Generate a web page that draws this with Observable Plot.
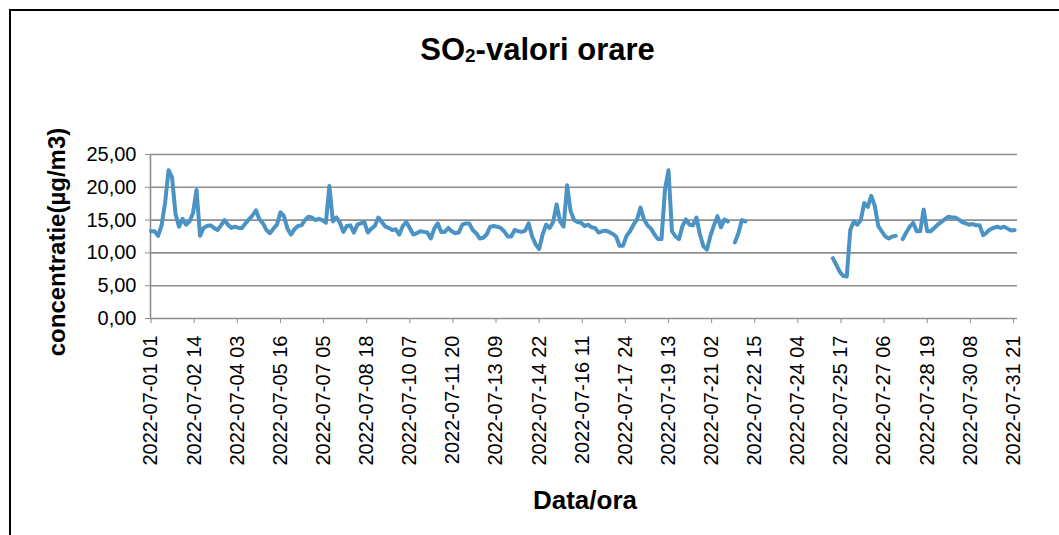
<!DOCTYPE html>
<html>
<head>
<meta charset="utf-8">
<script src="https://cdn.jsdelivr.net/npm/d3@7"></script>
<script src="https://cdn.jsdelivr.net/npm/@observablehq/plot@0.6"></script>
<style>
  html, body { margin: 0; padding: 0; background: #fff; }
  #wrap { position: relative; width: 1059px; height: 535px; overflow: hidden; font-family: 'Liberation Sans', Arial, sans-serif; }
  #frame { position: absolute; left: 9px; top: 9px; width: 1100px; height: 600px; border: 2px solid #000; box-sizing: border-box; }
  #title { position: absolute; left: 0; width: 1075px; top: 32px; text-align: center; font-size: 31px; font-weight: bold; color: #000; }
  #title sub { font-size: 19px; vertical-align: -2px; line-height: 0; }
  #ylab { position: absolute; left: 57px; top: 242px; transform: translate(-50%, -50%) rotate(-90deg); font-size: 24px; font-weight: bold; white-space: nowrap; }
  #xlab { position: absolute; left: 585px; top: 485px; transform: translateX(-50%); font-size: 26px; font-weight: bold; white-space: nowrap; }
  #chart { position: absolute; left: 0; top: 0; }
</style>
</head>
<body>
<div id="wrap">
  <div id="frame"></div>
  <div id="chart"></div>
  <div id="title">SO<sub>2</sub>-valori orare</div>
  <div id="ylab">concentratie(µg/m3)</div>
  <div id="xlab">Data/ora</div>
</div>
<script>
// Category tick labels (every 37th hourly category)
const tickLabels = [
  "2022-07-01 01", "2022-07-02 14", "2022-07-04 03", "2022-07-05 16", "2022-07-07 05",
  "2022-07-08 18", "2022-07-10 07", "2022-07-11 20", "2022-07-13 09", "2022-07-14 22",
  "2022-07-16 11", "2022-07-17 24", "2022-07-19 13", "2022-07-21 02", "2022-07-22 15",
  "2022-07-24 04", "2022-07-25 17", "2022-07-27 06", "2022-07-28 19", "2022-07-30 08",
  "2022-07-31 21"
];
const yTicks = [0, 5, 10, 15, 20, 25];
const firstHourLabel = "2022-07-01 01";
const lastHourLabel = "2022-07-31 24";
const stepHours = 3; // one reading every 3 hours

// SO2 hourly values (µg/m3), sampled every 3 hours from 2022-07-01 01; null = missing
const values = [
  13.3, 13.3, 12.6, 14.2, 17.6, 22.6, 21.5, 15.9, 14.0, 15.2,
  14.3, 14.8, 16.1, 19.6, 12.6, 13.8, 14.1, 14.2, 13.8, 13.5,
  14.2, 15.0, 14.3, 13.8, 14.0, 13.8, 13.8, 14.5, 15.1, 15.7,
  16.5, 15.1, 14.5, 13.5, 13.0, 13.7, 14.3, 16.2, 15.6, 13.7,
  12.8, 13.6, 14.1, 14.2, 15.0, 15.5, 15.4, 15.0, 15.2, 15.0,
  14.6, 20.2, 14.8, 15.4, 14.6, 13.2, 14.1, 14.2, 13.1, 14.3,
  14.5, 14.7, 13.1, 13.7, 14.1, 15.4, 14.7, 14.0, 13.8, 13.5,
  13.6, 12.8, 14.1, 14.7, 13.8, 12.8, 13.0, 13.3, 13.2, 13.1,
  12.2, 13.7, 14.5, 13.2, 13.2, 13.8, 13.3, 13.0, 13.1, 14.3,
  14.5, 14.5, 13.5, 13.0, 12.2, 12.3, 12.8, 14.0, 14.1, 14.0,
  13.8, 13.3, 12.5, 12.5, 13.5, 13.3, 13.2, 13.4, 14.5, 12.5,
  11.3, 10.6, 12.8, 14.3, 13.8, 14.7, 17.4, 14.8, 14.0, 20.3,
  16.4, 15.0, 14.7, 14.6, 14.1, 14.3, 13.9, 13.8, 13.1, 13.3,
  13.4, 13.2, 12.9, 12.5, 11.1, 11.1, 12.6, 13.3, 14.3, 15.1,
  16.9, 15.1, 14.2, 13.7, 12.8, 12.1, 12.1, 19.7, 22.6, 13.3,
  12.5, 12.1, 14.1, 15.1, 14.3, 14.2, 15.4, 12.8, 11.0, 10.5,
  12.6, 14.2, 15.6, 13.9, 15.1, 14.8, null, 11.6, 13.0, 15.0,
  14.8, null, null, null, null, null, null, null, null, null,
  null, null, null, null, null, null, null, null, null, null,
  null, null, null, null, null, 9.2, 8.2, 7.1, 6.5, 6.4,
  13.5, 14.8, 14.3, 15.0, 17.6, 17.0, 18.7, 17.2, 14.1, 13.3,
  12.5, 12.2, 12.5, 12.6, null, 12.1, 13.1, 14.0, 14.6, 13.3,
  13.3, 16.6, 13.3, 13.3, 13.8, 14.3, 14.7, 15.1, 15.5, 15.4,
  15.4, 15.1, 14.7, 14.5, 14.3, 14.4, 14.2, 14.2, 12.7, 13.1,
  13.6, 13.8, 14.0, 13.8, 14.0, 13.7, 13.4, 13.5
];

// hour index (category index) of a "YYYY-MM-DD HH" label, hours 01..24
const hourIndex = s => (+s.slice(8, 10) - 1) * 24 + (+s.slice(11, 13)) - 1;
const tickHours = tickLabels.map(hourIndex);
const nCats = hourIndex(lastHourLabel) + 1;
const data = values.map((v, k) => ({h: hourIndex(firstHourLabel) + k * stepHours, v}));

const gridColor = "#8e8e8e";
const chart = Plot.plot({
  width: 1059,
  height: 535,
  marginLeft: 150,
  marginRight: 42,
  marginTop: 154,
  marginBottom: 217,
  x: {type: "linear", domain: [-0.5, nCats - 0.5]},
  y: {domain: [0, 25]},
  style: {fontFamily: "'Liberation Sans', Arial, sans-serif", fontSize: "20px", color: "#000", background: "transparent", overflow: "visible"},
  marks: [
    Plot.gridY({ticks: yTicks.filter(d => d > 0), stroke: gridColor, strokeOpacity: 1, strokeWidth: 1.6}),
    Plot.ruleX([-0.5], {stroke: gridColor, strokeWidth: 1.6}),
    Plot.ruleY([0], {stroke: gridColor, strokeWidth: 1.6}),
    Plot.axisY({ticks: yTicks, tickFormat: d => d.toFixed(2).replace(".", ","), tickSize: 5, tickPadding: 9, stroke: gridColor, fontSize: 20, label: null}),
    Plot.axisX({ticks: tickHours, tickFormat: h => tickLabels[tickHours.indexOf(h)], tickRotate: -90, tickSize: 5, tickPadding: 12, stroke: gridColor, fontSize: 20, label: null}),
    Plot.line(data, {x: "h", y: "v", stroke: "#4a93c4", strokeWidth: 4, strokeLinejoin: "round", strokeLinecap: "round"})
  ]
});
document.getElementById("chart").appendChild(chart);
</script>
</body>
</html>
